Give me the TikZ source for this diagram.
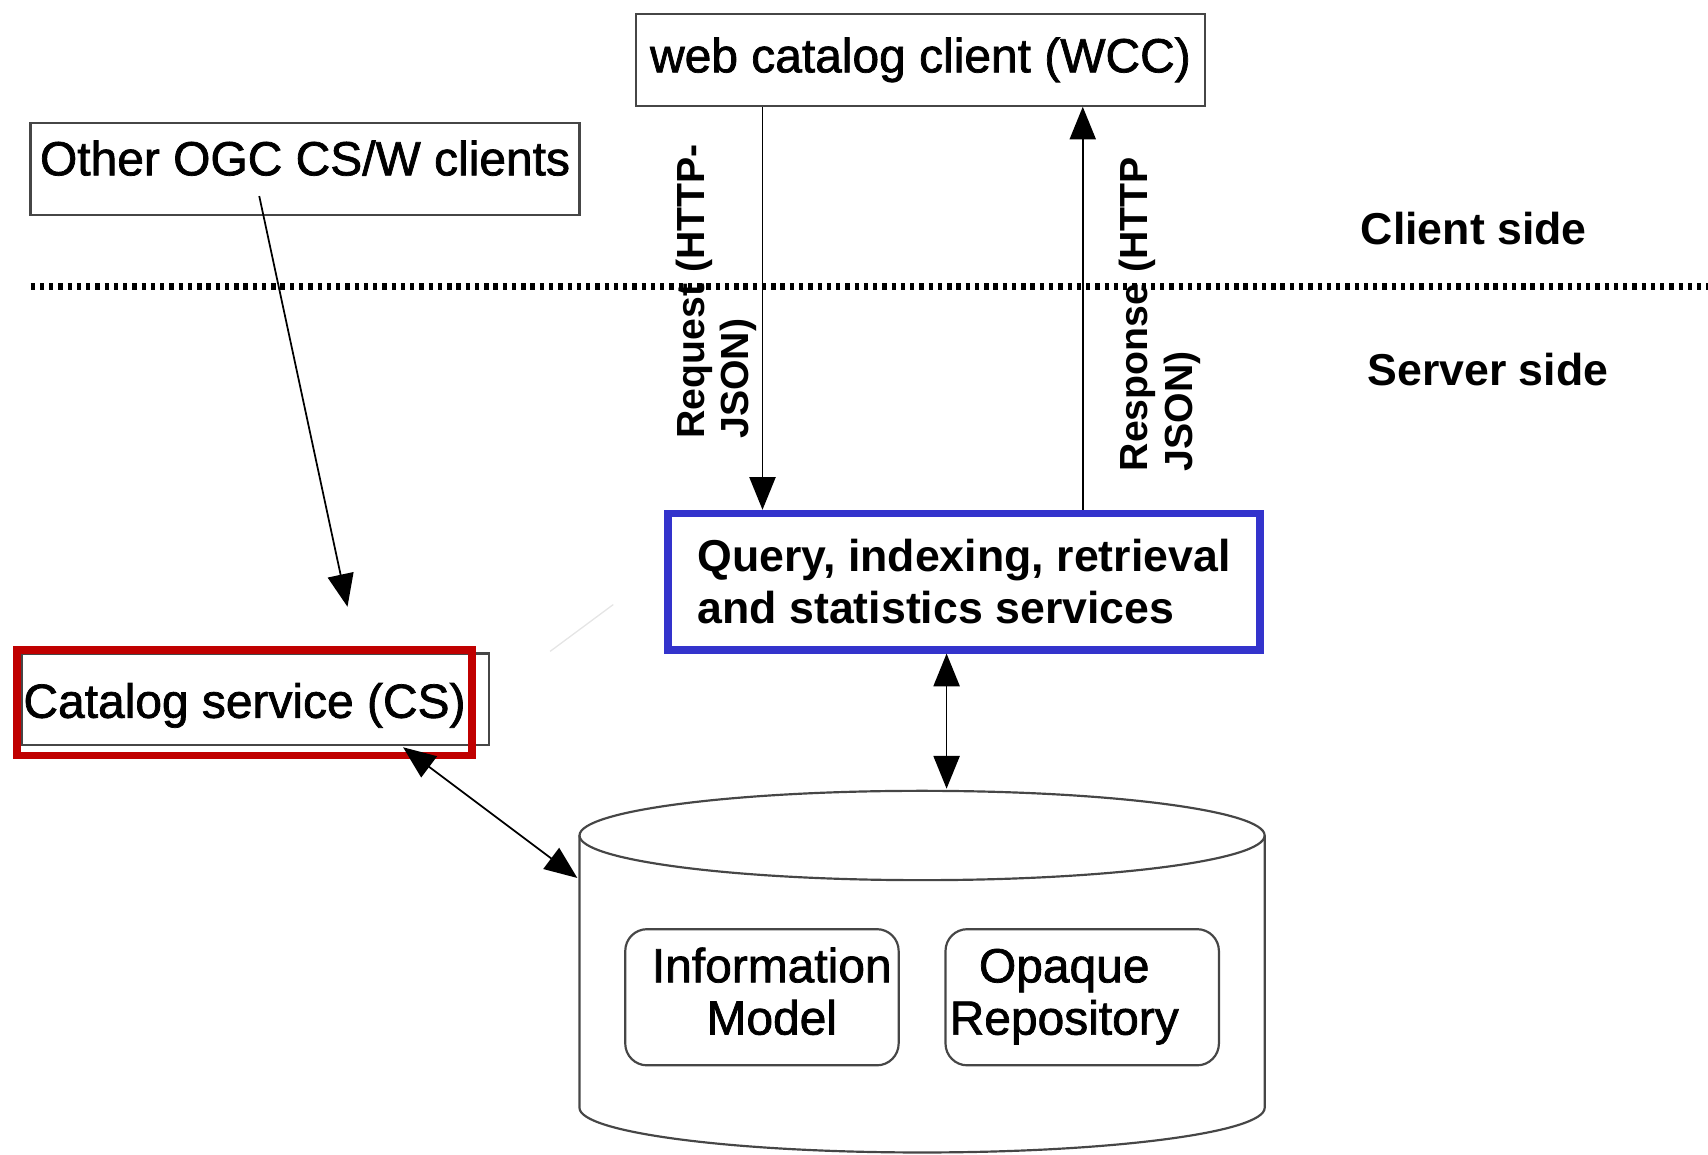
\documentclass[tikz,border=0pt]{standalone}
\usepackage{fontspec}
\setmainfont{Liberation Sans}
\newfontfamily\heavyfont[FakeBold=1.5]{Liberation Sans}
\usetikzlibrary{arrows.meta}
\definecolor{qblue}{RGB}{51,51,204}
\definecolor{cred}{RGB}{192,0,0}
\definecolor{boxgray}{RGB}{70,70,70}
\tikzset{
  plainbox/.style={draw=boxgray, line width=1pt, inner sep=0pt, font=\heavyfont\fontsize{22}{24}\selectfont},
  inbox/.style={draw=boxgray, line width=1pt, rounded corners=10pt, inner sep=0pt,
    minimum width=125.5pt, minimum height=62.5pt},
  intext/.style={inner sep=0pt, align=center, font=\heavyfont\fontsize{22}{24}\selectfont},
  conn/.style={line width=0.8pt, -{Triangle[length=15pt,width=12pt]}},
  conntwo/.style={line width=0.8pt, {Triangle[length=15pt,width=12pt]}-{Triangle[length=15pt,width=12pt]}},
  sidelabel/.style={inner sep=0pt, font=\bfseries\fontsize{20.5}{24}\selectfont},
  vlabel/.style={rotate=90, anchor=west, align=left, inner sep=0pt, font=\bfseries\fontsize{18}{20.5}\selectfont},
  dotline/.style={line width=3pt, dash pattern=on 2pt off 2.25pt},
  cyl/.style={draw=boxgray, line width=1pt}
}
\begin{document}
\begin{tikzpicture}[x=0.5pt,y=-0.5pt]
\useasboundingbox (0,0) rectangle (1568,1060);

% top client box
\node[plainbox, minimum width=261pt, minimum height=42pt] (wcc) at (845,55) {web catalog client (WCC)};
\node[plainbox, minimum width=252pt, minimum height=42pt, text depth=10pt] (ogc) at (280,155) {Other OGC CS/W clients};

% client/server separator
\coordinate (dl) at (28,263);
\coordinate (dr) at (1568,263);
\draw[dotline] (dl) -- (dr);
\node[sidelabel] (cside) at (1353,210) {Client side};
\node[sidelabel] (sside) at (1366,339) {Server side};

% query services
\node[draw=qblue, line width=3.5pt, minimum width=271.5pt, minimum height=62.5pt, align=left,
  inner sep=0pt, font=\bfseries\fontsize{20.5}{24}\selectfont] (qis) at (885,534)
  {Query, indexing, retrieval\\and statistics services};

% request / response
\coordinate (rqx) at (700,0);
\coordinate (rsx) at (994,0);
\draw[conn] (wcc.south -| rqx) -- (qis.north -| rqx);
\draw[conn] (qis.north -| rsx) -- (wcc.south -| rsx);
\node[vlabel] (reqlbl) at (657.5,403) {Request (HTTP-\\JSON)};
\node[vlabel] (reslbl) at (1065,433) {Response (HTTP\\JSON)};

% other clients -> CS
\coordinate (o1) at (238,180);
\coordinate (o2) at (319,557);
\draw[conn] (o1) -- (o2);

% catalog service
\node[draw=boxgray, line width=1pt, minimum width=214.5pt, minimum height=42pt, inner sep=0pt] (csin) at (234.5,642) {};
\node[draw=cred, line width=3.5pt, minimum width=209pt, minimum height=48.5pt, inner sep=0pt, text depth=2pt,
  font=\heavyfont\fontsize{22}{24}\selectfont] (cs) at (224.5,645) {Catalog service (CS)};

% faint stray line
\coordinate (f1) at (505,598);
\coordinate (f2) at (563,555);
\draw[gray!20, line width=0.6pt] (f1) -- (f2);

% cylinder (database)
\draw[cyl] (532,767) -- (532,1017) arc[start angle=180, end angle=360, x radius=157.25pt, y radius=20.5pt] -- (1161,767);
\draw[cyl] (846.5,767) ellipse [x radius=157.25pt, y radius=20.5pt];
\coordinate (dbtop) at (869,724);
\coordinate (c1) at (370,686);
\coordinate (c2) at (530,806);

\draw[conntwo] (qis.south -| dbtop) -- (dbtop);
\draw[conntwo] (c1) -- (c2);

\node[inbox] (im) at (699.5,915.5) {};
\node[inbox] (op) at (993.5,915.5) {};
\node[intext] (imtext) at (708.5,910) {Information\\Model};
\node[intext] (optext) at (977,915) {Opaque\\Repository};
\end{tikzpicture}
\end{document}
